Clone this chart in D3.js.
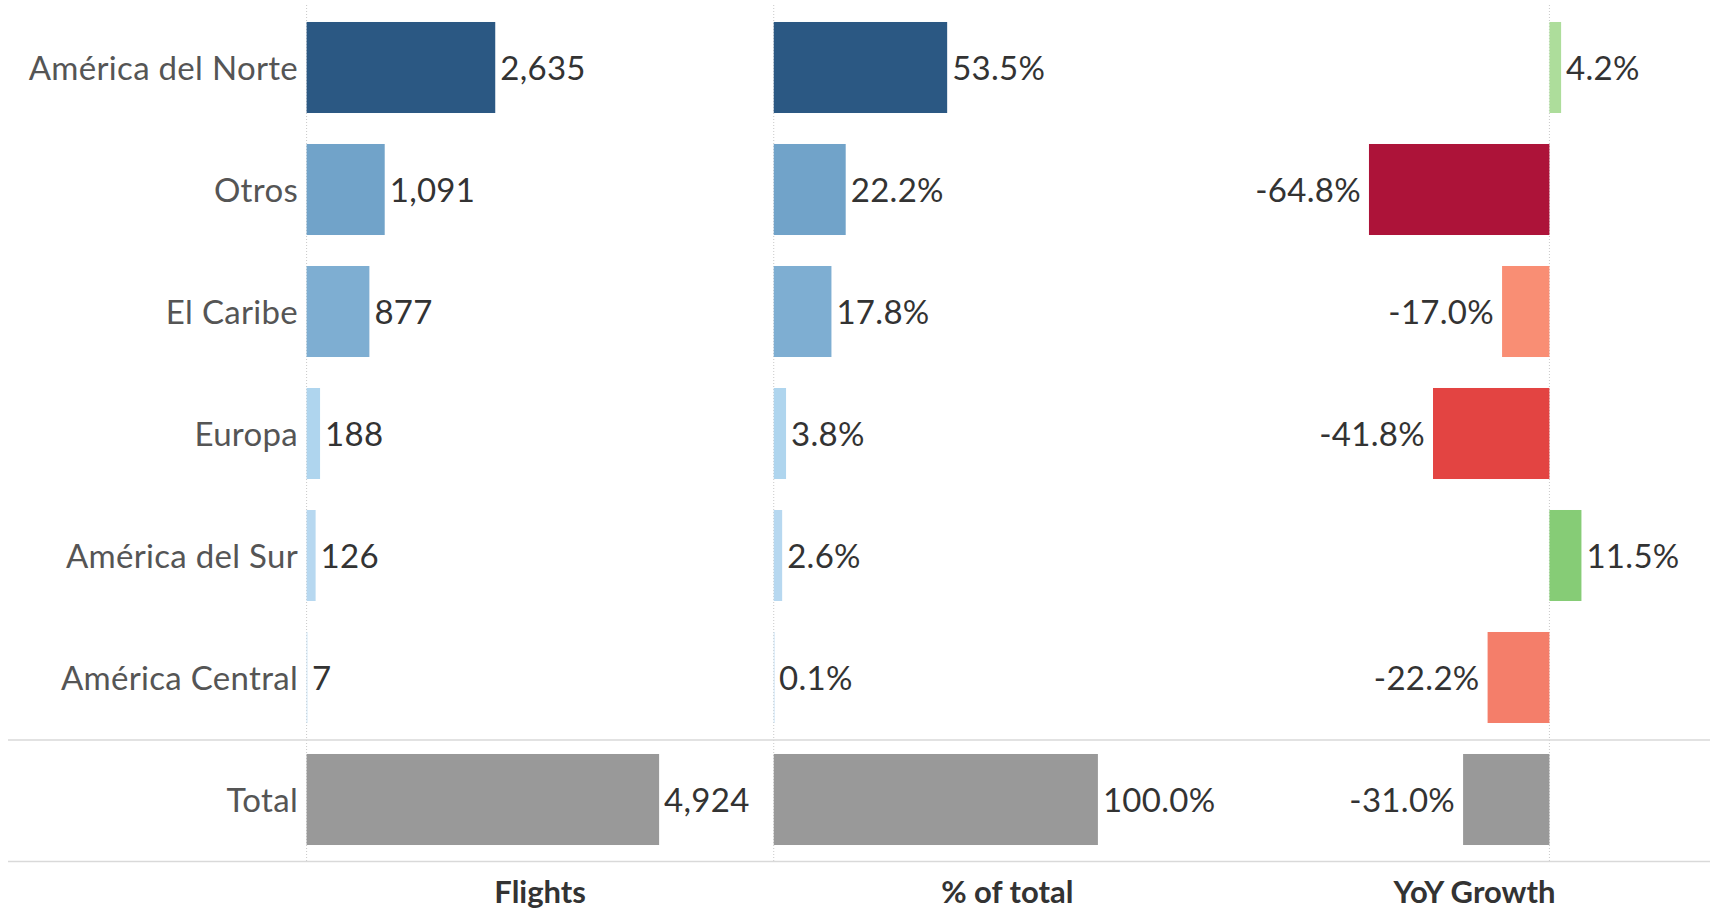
<!DOCTYPE html>
<html>
<head>
<meta charset="utf-8">
<script src="https://cdn.jsdelivr.net/npm/d3@7"></script>
<style>
	body { margin: 0; background: #fff; }
	svg { display: block; font-family: Lato, sans-serif; }
</style>
</head>
<body>
<svg id="chart" width="1717" height="910"></svg>
<script>
(function(){
	'use strict';

	// data
	var regions = ['América del Norte', 'Otros', 'El Caribe', 'Europa', 'América del Sur', 'América Central'];
	var flights = [2635, 1091, 877, 188, 126, 7];
	var shareOfTotal = [53.5, 22.2, 17.8, 3.8, 2.6, 0.1];
	var yoyGrowth = [4.2, -64.8, -17.0, -41.8, 11.5, -22.2];
	var totalLabel = 'Total';
	var totalFlights = 4924;
	var totalShare = 100.0;
	var totalYoy = -31.0;
	var measures = ['Flights', '% of total', 'YoY Growth'];

	var labelRight = 306.6, paneRight = 1708;
	var chart = d3.select('#chart');

	var rows = regions.concat([totalLabel]);
	var y = d3.scaleBand()
		.domain(rows)
		.range([6.5, 860.5])
		.paddingInner(0.254)
		.paddingOuter(0.127);

	var pane = d3.scaleBand()
		.domain(measures)
		.range([labelRight, paneRight]);

	function paneRange(m){ return [pane(m), pane(m) + pane.bandwidth()]; }

	var xFlights = d3.scaleLinear().domain([0, 6525]).range(paneRange('Flights'));
	var xShare = d3.scaleLinear().domain([0, 144.1]).range(paneRange('% of total'));
	var xYoy = d3.scaleLinear().domain([-110.8, 56.95]).range(paneRange('YoY Growth'));

	var blues = d3.scaleLinear()
		.domain([0, 200, 1000, 2635])
		.range(['#c6e0f4', '#aed4ee', '#75a7cd', '#2b5883'])
		.clamp(true);
	var redGreen = d3.scaleLinear()
		.domain([-65, -42, -17, 0, 11.5])
		.range(['#ad1339', '#e34342', '#f98e74', '#c4e6b0', '#86cc76'])
		.clamp(true);
	var totalColor = '#999999';

	var locale = d3.formatLocale({ decimal: '.', thousands: ',', grouping: [3], currency: ['$', ''], minus: '-' });
	var fmtNum = locale.format(',');
	var fmtPct = function(v){ return locale.format('.1f')(v) + '%'; };

	function rowsFor(values, total){
		return rows.map(function(r, i){
			return { row: r, value: i < values.length ? values[i] : total, total: i === values.length, i: i };
		});
	}

	var panels = [
		{ name: 'Flights', x: xFlights, data: rowsFor(flights, totalFlights), fmt: fmtNum,
			color: function(d){ return d.total ? totalColor : blues(flights[d.i]); } },
		{ name: '% of total', x: xShare, data: rowsFor(shareOfTotal, totalShare), fmt: fmtPct,
			color: function(d){ return d.total ? totalColor : blues(flights[d.i]); } },
		{ name: 'YoY Growth', x: xYoy, data: rowsFor(yoyGrowth, totalYoy), fmt: fmtPct,
			color: function(d){ return d.total ? totalColor : redGreen(d.value); } }
	];

	// zero lines
	chart.append('g')
		.selectAll('line')
		.data(panels)
		.join('line')
		.attr('x1', function(p){ return p.x(0); })
		.attr('x2', function(p){ return p.x(0); })
		.attr('y1', 5)
		.attr('y2', 862)
		.attr('stroke', '#c8c8c8')
		.attr('stroke-width', 1)
		.attr('stroke-dasharray', '1,2');

	// row separators
	var sepY = [y(totalLabel) - y.step() * y.paddingInner() / 2 + 1.5, y.range()[1] + 1];
	chart.append('g')
		.selectAll('line')
		.data(sepY)
		.join('line')
		.attr('x1', 8)
		.attr('x2', 1710)
		.attr('y1', function(d){ return d; })
		.attr('y2', function(d){ return d; })
		.attr('stroke', '#d9d9d9')
		.attr('stroke-width', 1.5);

	// category labels
	chart.append('g')
		.selectAll('text')
		.data(rows)
		.join('text')
		.attr('x', 298)
		.attr('y', function(r){ return y(r) + y.bandwidth() / 2 + 1; })
		.attr('dy', '0.36em')
		.attr('text-anchor', 'end')
		.attr('font-size', 33)
		.attr('letter-spacing', 0.3)
		.attr('fill', '#555')
		.text(function(r){ return r; });

	panels.forEach(function(p){
		var g = chart.append('g');
		g.selectAll('rect')
			.data(p.data)
			.join('rect')
			.attr('x', function(d){ return p.x(Math.min(0, d.value)); })
			.attr('y', function(d){ return y(d.row); })
			.attr('width', function(d){ return Math.max(0.8, Math.abs(p.x(d.value) - p.x(0))); })
			.attr('height', y.bandwidth())
			.attr('fill', p.color);

		g.selectAll('text')
			.data(p.data)
			.join('text')
			.attr('x', function(d){ return d.value < 0 ? p.x(d.value) - 8 : p.x(d.value) + 5; })
			.attr('y', function(d){ return y(d.row) + y.bandwidth() / 2 + 1; })
			.attr('dy', '0.36em')
			.attr('text-anchor', function(d){ return d.value < 0 ? 'end' : 'start'; })
			.attr('font-size', 33)
			.attr('letter-spacing', 0.3)
			.attr('fill', '#333')
			.text(function(d){ return p.fmt(d.value); });

		chart.append('text')
			.attr('x', pane(p.name) + pane.bandwidth() / 2)
			.attr('y', 892)
			.attr('dy', '0.36em')
			.attr('text-anchor', 'middle')
			.attr('font-size', 31)
			.attr('font-weight', 'bold')
			.attr('fill', '#333')
			.text(p.name);
	});

})();
</script>
</body>
</html>
